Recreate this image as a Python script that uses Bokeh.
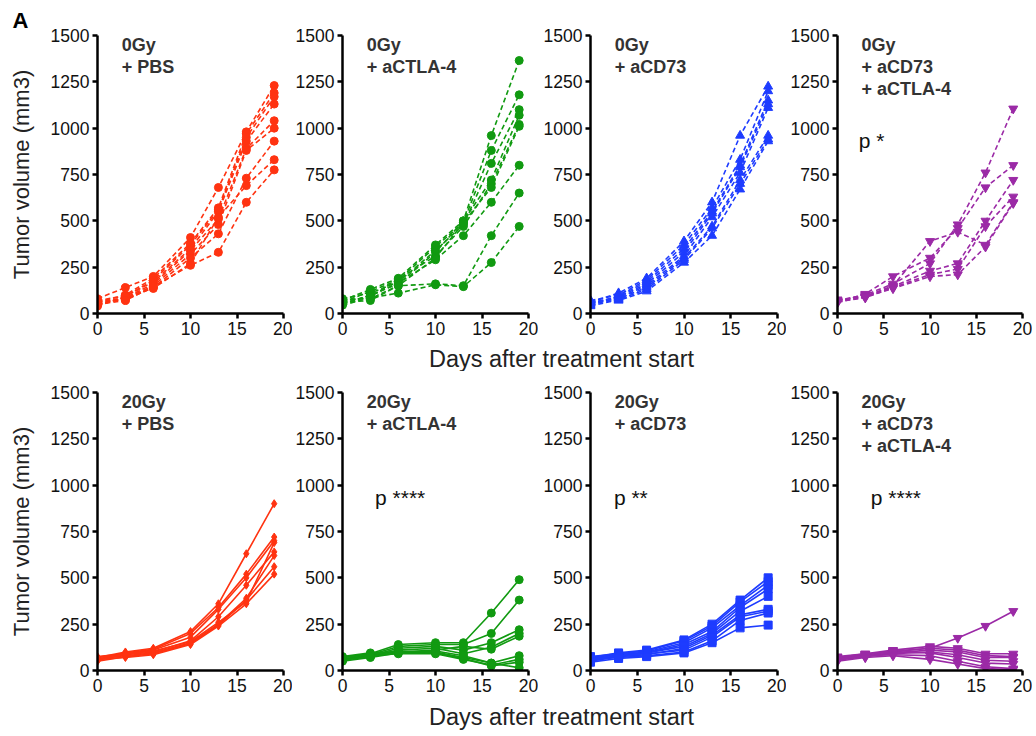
from bokeh.plotting import figure
from bokeh.layouts import row, column
from bokeh.models import Range1d, Label, FixedTicker
from bokeh.embed import file_html
from bokeh.resources import INLINE

days = [0, 3, 6, 10, 13, 16, 19]
y_ticks = [0, 250, 500, 750, 1000, 1250, 1500]
x_ticks = [0, 5, 10, 15, 20]

# ---- 0 Gy ----
pbs_0gy = [
    [80, 140, 200, 410, 680, 980, 1230],
    [60, 100, 190, 380, 570, 970, 1190],
    [50, 90, 180, 370, 560, 950, 1170],
    [70, 95, 170, 350, 550, 930, 1130],
    [45, 85, 160, 340, 510, 890, 1040],
    [55, 80, 150, 320, 480, 880, 1000],
    [65, 75, 140, 300, 430, 730, 930],
    [40, 90, 135, 270, 520, 690, 830],
    [50, 70, 145, 260, 330, 600, 775],
]
ctla4_0gy = [
    [70, 130, 190, 370, 500, 960, 1365],
    [60, 120, 180, 360, 490, 880, 1180],
    [80, 110, 170, 340, 480, 810, 1100],
    [50, 100, 160, 330, 500, 720, 1070],
    [65, 90, 185, 310, 470, 700, 1020],
    [75, 80, 150, 300, 490, 680, 1010],
    [55, 95, 165, 290, 420, 600, 800],
    [60, 70, 150, 160, 150, 420, 650],
    [45, 85, 110, 155, 145, 275, 470],
]
cd73_0gy = [
    [60, 110, 190, 390, 600, 960, 1225],
    [70, 100, 180, 370, 570, 830, 1200],
    [50, 95, 170, 350, 550, 800, 1150],
    [55, 90, 160, 330, 540, 790, 1130],
    [45, 85, 150, 310, 520, 760, 1110],
    [65, 80, 140, 300, 470, 720, 960],
    [40, 75, 130, 290, 460, 700, 940],
    [60, 70, 120, 275, 420, 670, 930],
]
combo_0gy = [
    [70, 100, 160, 270, 480, 760, 1105],
    [75, 90, 150, 390, 440, 370, 600],
    [60, 105, 200, 300, 460, 680, 800],
    [70, 95, 145, 230, 270, 500, 720],
    [65, 85, 140, 210, 240, 470, 630],
    [60, 90, 135, 200, 210, 360, 595],
]

# ---- 20 Gy ----
pbs_20gy = [
    [70, 100, 120, 210, 360, 630, 900],
    [60, 95, 115, 200, 340, 520, 720],
    [75, 90, 110, 180, 330, 500, 700],
    [55, 85, 100, 160, 290, 460, 640],
    [65, 80, 95, 150, 250, 390, 620],
    [50, 75, 90, 145, 245, 380, 560],
    [60, 70, 85, 140, 240, 360, 520],
    [70, 88, 105, 155, 260, 370, 690],
]
ctla4_20gy = [
    [70, 90, 140, 150, 150, 310, 490],
    [60, 85, 130, 140, 140, 200, 380],
    [55, 80, 120, 130, 110, 150, 220],
    [65, 75, 110, 120, 90, 125, 200],
    [75, 95, 100, 110, 130, 115, 185],
    [50, 70, 95, 100, 70, 40, 80],
    [60, 80, 90, 90, 60, 30, 60],
    [70, 85, 105, 95, 65, 25, 45],
    [55, 75, 100, 105, 80, 40, 15],
]
cd73_20gy = [
    [70, 95, 110, 165, 250, 380, 500],
    [65, 90, 105, 160, 240, 370, 480],
    [60, 85, 100, 150, 230, 350, 460],
    [75, 90, 95, 140, 210, 340, 440],
    [55, 80, 95, 130, 200, 320, 400],
    [50, 75, 85, 120, 190, 300, 330],
    [65, 80, 90, 110, 180, 290, 320],
    [60, 70, 80, 100, 160, 270, 310],
    [45, 65, 75, 95, 150, 230, 245],
]
combo_20gy = [
    [70, 85, 100, 120, 175, 240, 320],
    [75, 90, 110, 130, 120, 90, 90],
    [65, 85, 105, 120, 110, 80, 75],
    [60, 80, 95, 110, 100, 70, 70],
    [55, 75, 90, 100, 85, 55, 50],
    [70, 90, 100, 95, 70, 40, 35],
    [60, 80, 85, 80, 50, 20, 10],
    [50, 70, 80, 60, 35, 10, 5],
]

titles = [
    ["0Gy", "+ PBS"],
    ["0Gy", "+ aCTLA-4"],
    ["0Gy", "+ aCD73"],
    ["0Gy", "+ aCD73", "+ aCTLA-4"],
    ["20Gy", "+ PBS"],
    ["20Gy", "+ aCTLA-4"],
    ["20Gy", "+ aCD73"],
    ["20Gy", "+ aCD73", "+ aCTLA-4"],
]
pvals = [None, None, None, "p *", None, "p ****", "p **", "p ****"]
pval_x = [0, 0, 0, 2.3, 0, 3.5, 2.5, 3.6]

RED = "#FF3311"
GREEN = "#119A11"
BLUE = "#1E3CFF"
PURPLE = "#9B2AA6"

groups = [pbs_0gy, ctla4_0gy, cd73_0gy, combo_0gy,
          pbs_20gy, ctla4_20gy, cd73_20gy, combo_20gy]
colors = [RED, GREEN, BLUE, PURPLE, RED, GREEN, BLUE, PURPLE]
markers = ["circle", "circle", "triangle", "inverted_triangle",
           "diamond", "circle", "square", "inverted_triangle"]
msizes = [8, 8, 9, 9, 8, 8, 8, 9]

FONT = "Liberation Sans"
lefts = [97, 50, 52, 51]
rights = [9, 10, 9, 10]
fws = [186, 186, 187, 185]


def make_panel(i):
    col = i % 4
    top_row = i < 4
    p = figure(frame_width=fws[col], frame_height=278,
               x_range=Range1d(0, 20), y_range=Range1d(0, 1500),
               output_backend="svg", toolbar_location=None,
               min_border_left=lefts[col], min_border_right=rights[col],
               min_border_top=35 if top_row else 21,
               min_border_bottom=30 if top_row else 28)
    p.outline_line_color = None
    p.xgrid.visible = False
    p.ygrid.visible = False
    for ax in (p.xaxis[0], p.yaxis[0]):
        ax.axis_line_width = 2.5
        ax.axis_line_color = "black"
        ax.major_tick_line_width = 2.5
        ax.major_tick_line_color = "black"
        ax.major_tick_out = 5
        ax.major_tick_in = 0
        ax.minor_tick_out = 0
        ax.minor_tick_in = 0
        ax.major_label_text_font = FONT
        ax.major_label_text_font_size = "17.5px"
        ax.major_label_text_color = "#111111"
        ax.major_label_standoff = 3
    p.xaxis.ticker = FixedTicker(ticks=x_ticks)
    p.yaxis.ticker = FixedTicker(ticks=y_ticks)
    if col == 0:
        p.yaxis.axis_label = "Tumor volume (mm3)"
        p.yaxis.axis_label_text_font = FONT
        p.yaxis.axis_label_text_font_size = "22px"
        p.yaxis.axis_label_text_font_style = "normal"
        p.yaxis.axis_label_text_color = "#222222"
        p.yaxis.axis_label_standoff = 14

    dash = "5 3" if top_row else "solid"
    for mouse in groups[i]:
        p.line(days, mouse, line_color=colors[i], line_width=1.6, line_dash=dash)
        p.scatter(days, mouse, marker=markers[i], size=msizes[i],
                  fill_color=colors[i], line_color=colors[i])

    ys = [1450, 1332, 1214]
    for k, t in enumerate(titles[i]):
        p.add_layout(Label(x=2.6, y=ys[k], text=t, text_font=FONT,
                           text_font_size="18px", text_font_style="bold",
                           text_color="#333333", text_baseline="alphabetic"))
    if pvals[i]:
        p.add_layout(Label(x=pval_x[i], y=935, text=pvals[i], text_font=FONT,
                           text_font_size="21px", text_color="#111111",
                           text_baseline="alphabetic"))
    if i == 0:
        p.title.text = "A"
        p.title.align = "left"
        p.title.offset = -85
        p.title.standoff = 6
        p.title.text_font = FONT
        p.title.text_font_size = "22px"
        p.title.text_font_style = "bold"
        p.title.text_color = "black"
    return p


def title_fig(h, ycenter):
    f = figure(frame_width=1032, frame_height=h, x_range=Range1d(0, 1032),
               y_range=Range1d(0, h), output_backend="svg",
               toolbar_location=None, min_border=0)
    f.axis.visible = False
    f.grid.visible = False
    f.outline_line_color = None
    f.add_layout(Label(x=561, y=ycenter, text="Days after treatment start",
                       text_font=FONT, text_font_size="23.5px",
                       text_color="#222222", text_align="center",
                       text_baseline="middle"))
    return f


panels = [make_panel(i) for i in range(8)]
layout = column(row(*panels[:4]), title_fig(28, 13),
                row(*panels[4:]), title_fig(36, 18))

open("out.html", "w").write(file_html(layout, INLINE))
